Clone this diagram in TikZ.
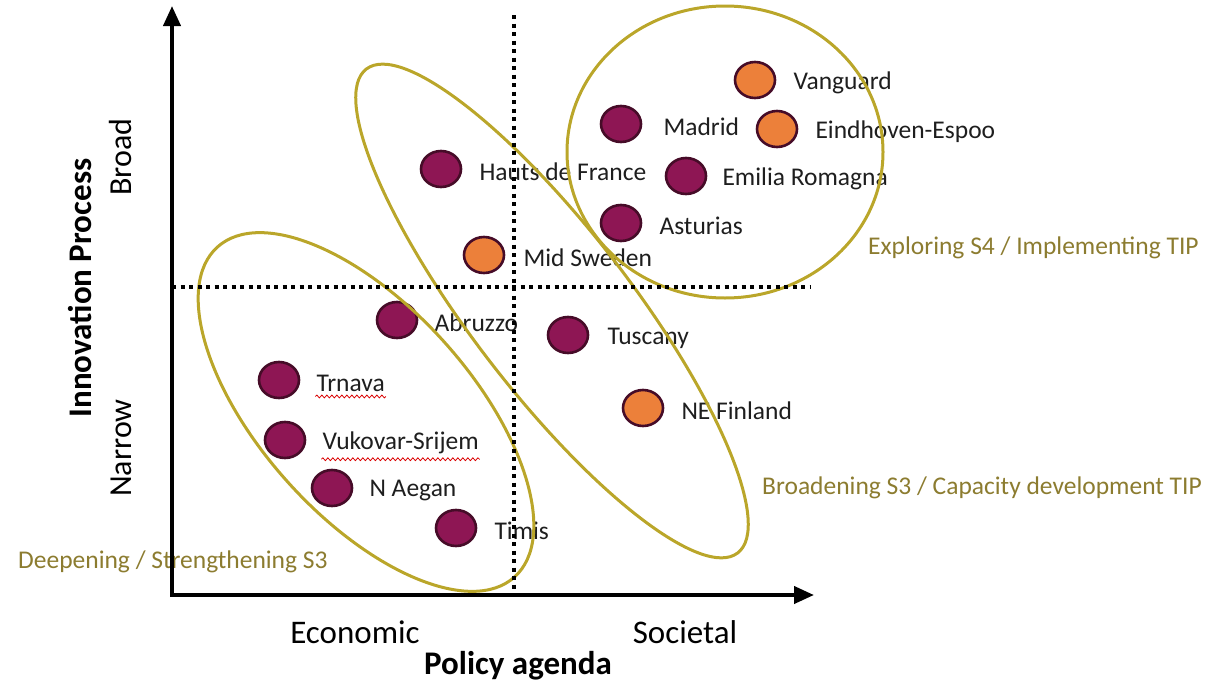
\documentclass[tikz,border=0pt]{standalone}
\usepackage{fontspec}
\setmainfont{Carlito}
\usetikzlibrary{positioning,shapes.geometric,arrows.meta,decorations.pathmorphing}
\definecolor{plum}{RGB}{142,22,84}
\definecolor{plumedge}{RGB}{70,12,40}
\definecolor{tangerine}{RGB}{236,128,58}
\definecolor{gold}{RGB}{186,166,42}
\definecolor{goldtext}{RGB}{140,124,48}
\definecolor{ink}{RGB}{30,30,30}
\begin{document}
\begin{tikzpicture}[
    x=1pt, y=-1pt,
    dot/.style={ellipse, draw=plumedge, line width=2.6pt, minimum width=40pt, minimum height=36pt, inner sep=0pt},
    purpledot/.style={dot, fill=plum},
    orangedot/.style={dot, fill=tangerine},
    lbl/.style={font=\fontsize{25.5}{30}\selectfont, text=ink, inner sep=1pt, right=16pt, yshift=-3pt},
    group/.style={font=\fontsize{25.5}{30}\selectfont, text=goldtext, inner sep=0pt, anchor=west},
    axislbl/.style={font=\fontsize{33}{38}\selectfont, text=black, inner sep=0pt},
    cluster/.style={draw=gold, line width=3pt},
    grid/.style={line width=4pt, dash pattern=on 4pt off 4.5pt},
    axis/.style={line width=4pt, {Triangle[length=20pt,width=17pt]}-{Triangle[length=20pt,width=17pt]}},
    spell/.style={red!85!black, line width=0.8pt, decorate, decoration={snake, amplitude=1.4pt, segment length=5pt}}
]
    \useasboundingbox (0,0) rectangle (1224,683);

    % Regions
    \node[orangedot] (vanguard) at (755,80) {};
    \node[purpledot] (madrid) at (621,124) {};
    \node[orangedot] (eindhoven) at (777,129) {};
    \node[purpledot] (hauts) at (441,169) {};
    \node[purpledot] (emilia) at (686,176) {};
    \node[purpledot] (asturias) at (621,223) {};
    \node[orangedot] (midsweden) at (484,255) {};
    \node[purpledot] (abruzzo) at (397,320) {};
    \node[purpledot] (tuscany) at (568,335) {};
    \node[purpledot] (trnava) at (279,380) {};
    \node[orangedot] (nefinland) at (643,408) {};
    \node[purpledot] (vukovar) at (285,440) {};
    \node[purpledot] (naegan) at (332,488) {};
    \node[purpledot] (timis) at (456,528) {};

    % Region names
    \node[lbl] (vanguardL) [right=16pt of vanguard] {Vanguard};
    \node[lbl] (madridL) [right=20pt of madrid] {Madrid};
    \node[lbl] (eindhovenL) [right=16pt of eindhoven] {Eindhoven-Espoo};
    \node[lbl] (hautsL) [right=16pt of hauts] {Hauts de France};
    \node[lbl] (emiliaL) [right=14pt of emilia] {Emilia Romagna};
    \node[lbl] (asturiasL) [right=16pt of asturias] {Asturias};
    \node[lbl] (midswedenL) [right=17pt of midsweden] {Mid Sweden};
    \node[lbl] (abruzzoL) [right=15pt of abruzzo] {Abruzzo};
    \node[lbl] (tuscanyL) [right=17pt of tuscany] {Tuscany};
    \node[lbl] (trnavaL) [right=15pt of trnava] {Trnava};
    \node[lbl] (nefinlandL) [right=16pt of nefinland] {NE Finland};
    \node[lbl] (vukovarL) [right=15pt of vukovar] {Vukovar-Srijem};
    \node[lbl] (naeganL) [right=15pt of naegan] {N Aegan};
    \node[lbl] (timisL) [right=16pt of timis] {Timis};

    \draw[spell] ([yshift=-4pt]trnavaL.south west) -- ([yshift=-4pt]trnavaL.south east);
    \draw[spell] ([yshift=-4pt]vukovarL.south west) -- ([yshift=-4pt]vukovarL.south east);

    % Groupings
    \coordinate (deepC) at (366,412);
    \coordinate (broadC) at (552,311);
    \coordinate (exploreC) at (725,152);
    \draw[cluster, rotate around={-48:(deepC)}] (deepC) ellipse (222 and 105);
    \draw[cluster, rotate around={-52.5:(broadC)}] (broadC) ellipse (305 and 80);
    \draw[cluster] (exploreC) ellipse (158 and 146);

    \node[group] (exploreT) at (868,248) {Exploring S4 / Implementing TIP};
    \node[group] (broadT) at (762,488) {Broadening S3 / Capacity development TIP};
    \node[group] (deepT) at (18,562) {Deepening / Strengthening S3};

    % Quadrant lines
    \coordinate (vtop) at (514,15);
    \coordinate (vbot) at (514,595);
    \coordinate (hleft) at (172,287);
    \coordinate (hright) at (810,287);
    \draw[grid] (vtop) -- (vbot);
    \draw[grid] (hleft) -- (hright);

    % Axes
    \coordinate (origin) at (172,595);
    \coordinate (ytip) at (172,6);
    \coordinate (xtip) at (814,595);
    \draw[axis, line join=miter] (ytip) -- (origin) -- (xtip);

    \node[axislbl] (economic) at (355,632) {Economic};
    \node[axislbl] (societal) at (685,632) {Societal};
    \node[axislbl, font=\fontsize{33}{38}\selectfont\bfseries] (xtitle) at (518,666) {Policy agenda};
    \node[axislbl, rotate=90, font=\fontsize{32}{38}\selectfont] (broad) at (121,157) {Broad};
    \node[axislbl, rotate=90, font=\fontsize{32}{38}\selectfont] (narrow) at (121,448) {Narrow};
    \node[axislbl, rotate=90, font=\fontsize{33}{38}\selectfont\bfseries] (ytitle) at (80,288) {Innovation Process};
\end{tikzpicture}
\end{document}
